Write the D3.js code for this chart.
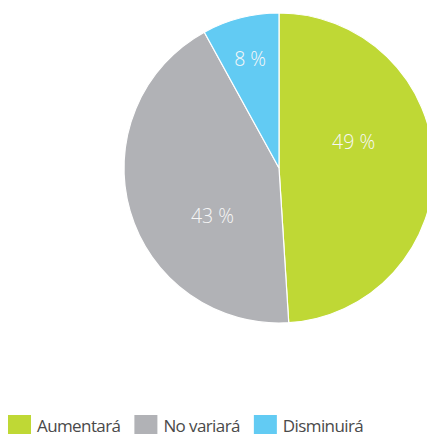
<!DOCTYPE html>
<html>
<head>
<meta charset="utf-8">
<script src="https://cdn.jsdelivr.net/npm/d3@7"></script>
<style>
  html, body { margin: 0; padding: 0; background: #fff; }
  svg { display: block; }
</style>
</head>
<body>
<svg id="chart" width="427" height="434"></svg>
<script>
const categories = ["Aumentará", "No variará", "Disminuirá"];
const values = [49, 43, 8];
const valueLabels = ["49 %", "43 %", "8 %"];
const colors = ["#BFD835", "#B1B2B6", "#62CBF3"];

const svg = d3.select("#chart");
const cx = 279, cy = 168, R = 155;

const pie = d3.pie().sort(null).value(d => d)(values);
const arc = d3.arc().innerRadius(0).outerRadius(R);

const g = svg.append("g").attr("transform", `translate(${cx},${cy})`);
g.selectAll("path").data(pie).join("path")
  .attr("d", arc)
  .attr("fill", (d, i) => colors[i])
  .attr("stroke", "#fff")
  .attr("stroke-width", 1.2);

// label placement (layout, not data): radius and angle shift relative to slice mid-angle
const labelPlace = [{r: 79, shift: -17.4}, {r: 82, shift: -19.6}, {r: 113, shift: -0.4}];
g.selectAll("text.val").data(pie).join("text")
  .attr("class", "val")
  .attr("x", (d, i) => {
    const a = ((d.startAngle + d.endAngle) / 2) + labelPlace[i].shift * Math.PI / 180;
    return labelPlace[i].r * Math.sin(a);
  })
  .attr("y", (d, i) => {
    const a = ((d.startAngle + d.endAngle) / 2) + labelPlace[i].shift * Math.PI / 180;
    return -labelPlace[i].r * Math.cos(a) + 7;
  })
  .attr("text-anchor", "middle")
  .attr("font-family", "'Open Sans', sans-serif")
  .attr("font-weight", 300)
  .attr("font-size", 19.5)
  .attr("fill", "#f7f7f7")
  .text((d, i) => valueLabels[i]);

// legend
const legend = svg.append("g").attr("transform", "translate(8,415)");
let x = 0;
categories.forEach((c, i) => {
  const item = legend.append("g").attr("transform", `translate(${x},0)`);
  item.append("rect").attr("x", 0).attr("y", 0).attr("width", 23).attr("height", 20).attr("fill", colors[i]);
  const t = item.append("text").attr("x", 29).attr("y", 17)
    .attr("font-family", "'Open Sans', sans-serif")
    .attr("font-size", 17)
    .attr("letter-spacing", -0.6)
    .attr("fill", "#4a4a4a")
    .text(c);
  x += 29 + t.node().getComputedTextLength() + 14;
});
</script>
</body>
</html>
